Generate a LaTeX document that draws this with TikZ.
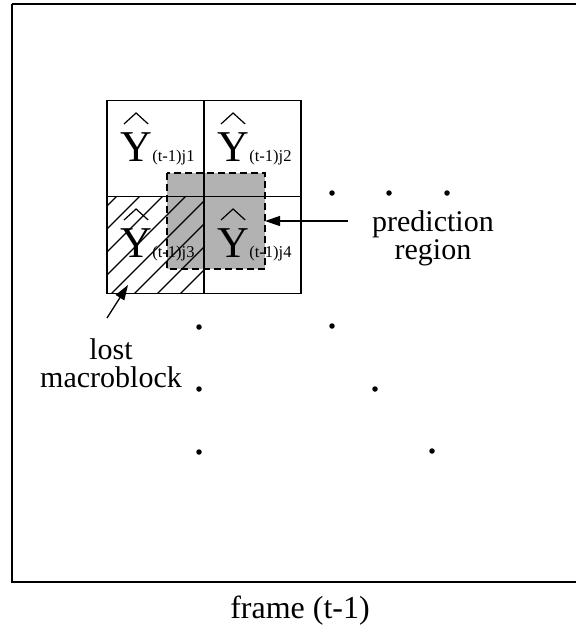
\documentclass[tikz,border=0pt]{standalone}
\usepackage{fontspec}
\setmainfont{Liberation Serif}
\usetikzlibrary{arrows.meta}
\begin{document}
\begin{tikzpicture}[x=1pt,y=-1pt,
 cell/.style={draw, line width=1.4pt, minimum width=97pt, minimum height=96.5pt, inner sep=0pt, outer sep=0pt},
 bigY/.style={inner sep=0pt, font=\fontsize{44}{44}\selectfont},
 subtxt/.style={inner sep=0pt, font=\fontsize{16.5}{16.5}\selectfont},
 lbl/.style={inner sep=0pt, align=center, font=\fontsize{30}{28}\selectfont},
 arr/.style={line width=1.3pt, -{Triangle[length=15pt,width=10pt]}},
 hatline/.style={line width=1.2pt},
 hatchline/.style={line width=1.1pt},
 dot/.style={circle, fill, inner sep=0pt, minimum size=5.5pt},
 regionbox/.style={fill=gray!60, minimum width=98pt, minimum height=96pt, inner sep=0pt, outer sep=0pt},
 dashborder/.style={line width=1.6pt, dash pattern=on 7pt off 4pt}]
\useasboundingbox (0,0) rectangle (576,638);
\fill[white] (0,0) rectangle (576,638);
% outer frame (right side lies beyond the picture)
\draw[line width=1.8pt] (12,4) -- (600,4);
\draw[line width=1.8pt] (600,582) -- (12,582) -- (12,4);
% prediction region (gray)
\node[regionbox] (region) at (216,221) {};
% cells
\node[cell] (c1) at (155.5,148.5) {};
\node[cell] (c2) at (252.5,148.5) {};
\node[cell] (c3) at (155.5,245) {};
\node[cell] (c4) at (252.5,245) {};
% Y labels
\node[bigY, anchor=base west] (y1) at (120,161) {Y};
\node[subtxt, anchor=base west] (s1) at (y1.base east) {(t-1)j1};
\node[bigY, anchor=base west] (y2) at (217,161) {Y};
\node[subtxt, anchor=base west] (s2) at (y2.base east) {(t-1)j2};
\node[bigY, anchor=base west] (y3) at (120,257) {Y};
\node[subtxt, anchor=base west] (s3) at (y3.base east) {(t-1)j3};
\node[bigY, anchor=base west] (y4) at (217,257) {Y};
\node[subtxt, anchor=base west] (s4) at (y4.base east) {(t-1)j4};
\foreach \n in {y1,y2,y3,y4}
  \draw[hatline] ([shift={(4,-8)}]\n.north west) -- ([shift={(0,-19)}]\n.north) -- ([shift={(-4,-8)}]\n.north east);
% hatching of lost macroblock
\begin{scope}
\clip (c3.south west) rectangle (c3.north east);
\foreach \c in {313,336,...,474}
  \draw[hatchline] (\c-310,310) -- (\c-180,180);
\end{scope}
% dashed border of region
\draw[dashborder] (region.north west) rectangle (region.south east);
% dots
\node[dot] (d1) at (332,193) {};
\node[dot] (d2) at (389,193) {};
\node[dot] (d3) at (447,193) {};
\node[dot] (d4) at (199,327) {};
\node[dot] (d5) at (332,326) {};
\node[dot] (d6) at (199,389) {};
\node[dot] (d7) at (375,389) {};
\node[dot] (d8) at (199,452) {};
\node[dot] (d9) at (432,451) {};
% labels and arrows
\node[lbl] (pred) at (433,238) {prediction\\region};
\coordinate (ptail) at (348,221);
\draw[arr] (ptail) -- (region.east);
\node[lbl] (lost) at (111,363) {lost\\macroblock};
\coordinate (ltail) at (107,318);
\coordinate (ltip) at (128,285);
\draw[arr] (ltail) -- (ltip);
\node[lbl, font=\fontsize{32}{32}\selectfont] (frame) at (300,611) {frame (t-1)};
\end{tikzpicture}
\end{document}
